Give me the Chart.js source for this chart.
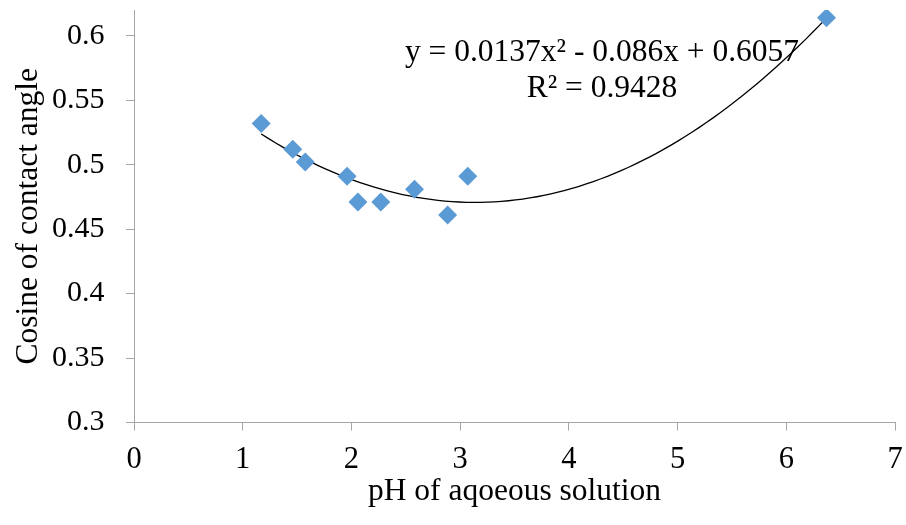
<!DOCTYPE html>
<html>
<head>
<meta charset="utf-8">
<title>Cosine of contact angle vs pH</title>
<script src="https://cdn.jsdelivr.net/npm/chart.js@4/dist/chart.umd.min.js"></script>
<style>
  html, body { margin: 0; padding: 0; background: #fff; }
  #wrap { width: 906px; height: 525px; }
</style>
</head>
<body>
<div id="wrap"><canvas id="chart-ph"></canvas></div>
<script>
// measured points: pH vs cosine of contact angle
const phValues  = [1.17, 1.46, 1.575, 1.96, 2.06, 2.27, 2.58, 2.885, 3.07, 6.37];
const cosValues = [0.532, 0.512, 0.502, 0.491, 0.471, 0.471, 0.481, 0.461, 0.491, 0.614];

// polynomial trendline (order 2), coefficients a, b, c for y = a x^2 + b x + c
const trendCoef = [0.0137, -0.086, 0.6057];
const trendR2 = 0.9428;

const xTicks = [0, 1, 2, 3, 4, 5, 6, 7];
const yTicks = [0.3, 0.35, 0.4, 0.45, 0.5, 0.55, 0.6];

const serif = "'Liberation Serif', 'Times New Roman', serif";
const axisGrey = '#a6a6a6';
const markerBlue = '#5b9bd5';

// sample the fitted curve across the measured pH range
const xMin = Math.min(...phValues), xMax = Math.max(...phValues);
const trendPts = [];
for (let i = 0; i <= 80; i++) {
    const x = xMin + (xMax - xMin) * i / 80;
    trendPts.push({ x: x, y: trendCoef[0] * x * x + trendCoef[1] * x + trendCoef[2] });
}

const fmt = v => String(v).replace(/^-/, '');
const eqLine1 = `y = ${trendCoef[0]}x² ${trendCoef[1] < 0 ? '-' : '+'} ${fmt(trendCoef[1])}x ${trendCoef[2] < 0 ? '-' : '+'} ${fmt(trendCoef[2])}`;
const eqLine2 = `R² = ${trendR2}`;

// draws the trendline equation block
const equationLabel = {
    id: 'equationLabel',
    afterDatasetsDraw(chart) {
        const ctx = chart.ctx;
        const xs = chart.scales.x, ys = chart.scales.y;
        const cx = xs.getPixelForValue(4.305);
        ctx.save();
        ctx.font = `31.5px ${serif}`;
        ctx.fillStyle = '#000';
        ctx.textAlign = 'center';
        ctx.textBaseline = 'alphabetic';
        ctx.fillText(eqLine1, cx, ys.getPixelForValue(0.6) + 25);
        ctx.fillText(eqLine2, cx, ys.getPixelForValue(0.6) + 61);
        ctx.restore();
    }
};

new Chart(document.getElementById('chart-ph').getContext('2d'), {
    type: 'scatter',
    data: {
        datasets: [
            {
                label: 'cos',
                data: phValues.map((x, i) => ({ x: x, y: cosValues[i] })),
                pointStyle: 'rectRot', pointRadius: 9.5, pointHoverRadius: 9.5,
                backgroundColor: markerBlue, borderColor: markerBlue, borderWidth: 0
            },
            {
                type: 'line', label: 'trend', data: trendPts,
                borderColor: '#000', borderWidth: 1.3, pointRadius: 0, fill: false, tension: 0
            }
        ]
    },
    options: {
        responsive: true, maintainAspectRatio: false, animation: false,
        layout: { padding: { top: 10, right: 11, left: 0, bottom: 0 } },
        plugins: { legend: { display: false }, tooltip: { enabled: false } },
        scales: {
            x: {
                type: 'linear', min: 0, max: 7,
                afterBuildTicks: s => { s.ticks = xTicks.map(v => ({ value: v })); },
                afterFit: s => { s.height = 102.5; s.paddingLeft = 0; s.paddingRight = 0; },
                grid: { drawOnChartArea: false, drawTicks: true, tickLength: 8, color: axisGrey },
                border: { color: axisGrey, width: 1 },
                ticks: { color: '#000', font: { family: serif, size: 30.5 }, padding: 11.5, maxRotation: 0 },
                title: { display: true, text: 'pH of aqoeous solution', color: '#000',
                         font: { family: serif, size: 31.5 }, padding: { top: 0, bottom: 14 } }
            },
            y: {
                type: 'linear', min: 0.3, max: 0.62,
                afterBuildTicks: s => { s.ticks = yTicks.map(v => ({ value: v })); },
                afterFit: s => { s.width = 134; s.paddingTop = 0; s.paddingBottom = 0; },
                grid: { drawOnChartArea: false, drawTicks: true, tickLength: 8, color: axisGrey },
                border: { color: axisGrey, width: 1 },
                ticks: { color: '#000', font: { family: serif, size: 30 }, padding: 21.5,
                         callback: v => String(Math.round(v * 100) / 100) },
                title: { display: true, text: 'Cosine of contact angle', color: '#000',
                         font: { family: serif, size: 31.5 }, padding: { top: 10, bottom: 0 } }
            }
        }
    },
    plugins: [equationLabel]
});
</script>
</body>
</html>
